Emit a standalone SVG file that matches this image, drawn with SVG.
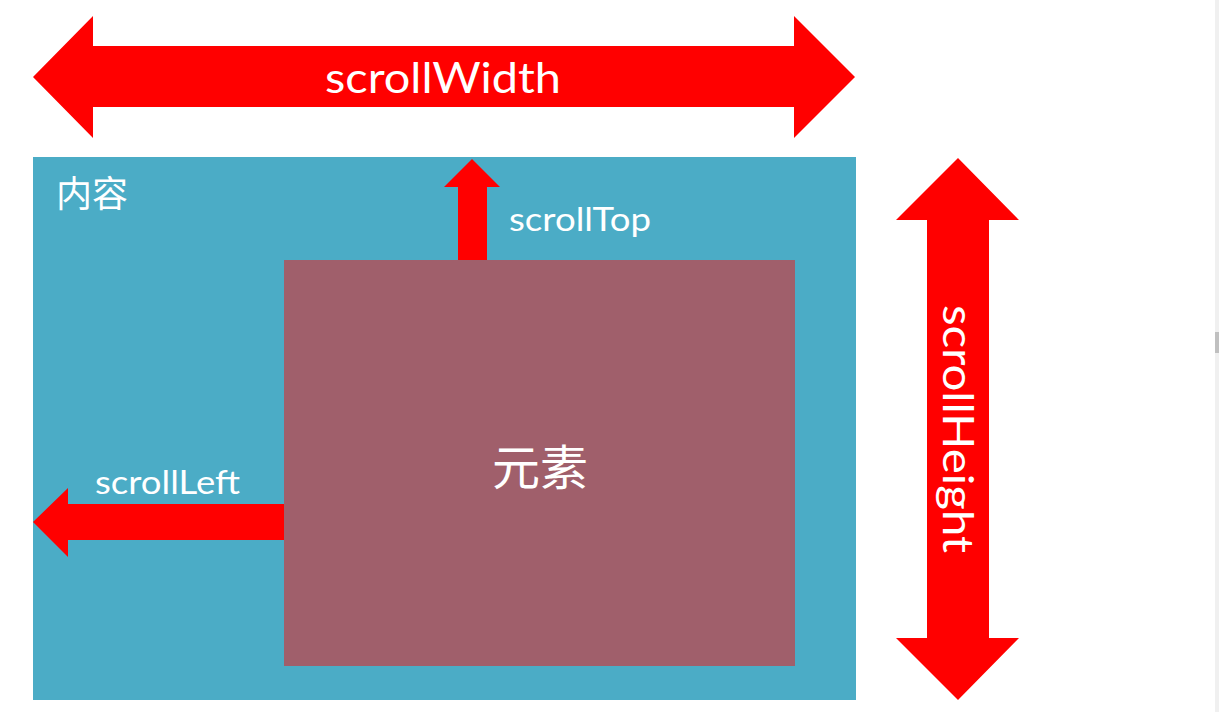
<svg xmlns="http://www.w3.org/2000/svg" width="1219" height="712" viewBox="0 0 1219 712">
<style>
.arrow{fill:#FF0000}
.t{fill:#FFFFFF;font-family:Lato,"Open Sans","Noto Sans CJK SC",sans-serif}
.cjk{fill:#FFFFFF;font-family:"Noto Sans CJK SC",sans-serif}
</style>
<rect x="0" y="0" width="1219" height="712" fill="#FFFFFF"/>
<g id="scrollbar">
<rect x="1215" y="0" width="4" height="712" fill="#F0F0F0"/>
<rect x="1215" y="332" width="4" height="21" fill="#C0C0C0"/>
</g>
<g id="content">
<rect x="33" y="157" width="823" height="543" fill="#4BACC6"/>
<text class="cjk" x="56" y="207" font-size="36">内容</text>
</g>
<g id="element">
<rect x="284" y="260" width="511" height="406" fill="#A05F6B"/>
<text class="cjk" x="540" y="485" font-size="48" text-anchor="middle">元素</text>
</g>
<g id="connectors">
<g id="scrollWidth">
<polygon class="arrow" points="33,77 93,16 93,46 794,46 794,16 855,77 794,138 794,107 93,107 93,138"/>
<text class="t" x="443" y="93" font-size="42" text-anchor="middle" textLength="236" lengthAdjust="spacingAndGlyphs">scrollWidth</text>
</g>
<g id="scrollHeight">
<polygon class="arrow" points="958,158 1019,220 989,220 989,638 1019,638 958,700 896,638 927,638 927,220 896,220"/>
<text class="t" transform="translate(943,429) rotate(90)" x="0" y="0" font-size="42" text-anchor="middle" textLength="248" lengthAdjust="spacingAndGlyphs">scrollHeight</text>
</g>
<g id="scrollTop">
<polygon class="arrow" points="472,159 500,187 487,187 487,260 458,260 458,187 444,187"/>
<text class="t" x="509" y="231" font-size="32" textLength="142" lengthAdjust="spacingAndGlyphs">scrollTop</text>
</g>
<g id="scrollLeft">
<polygon class="arrow" points="33,522 68,488 68,504 284,504 284,540 68,540 68,557"/>
<text class="t" x="95" y="494" font-size="32" textLength="145" lengthAdjust="spacingAndGlyphs">scrollLeft</text>
</g>
</g>
</svg>
